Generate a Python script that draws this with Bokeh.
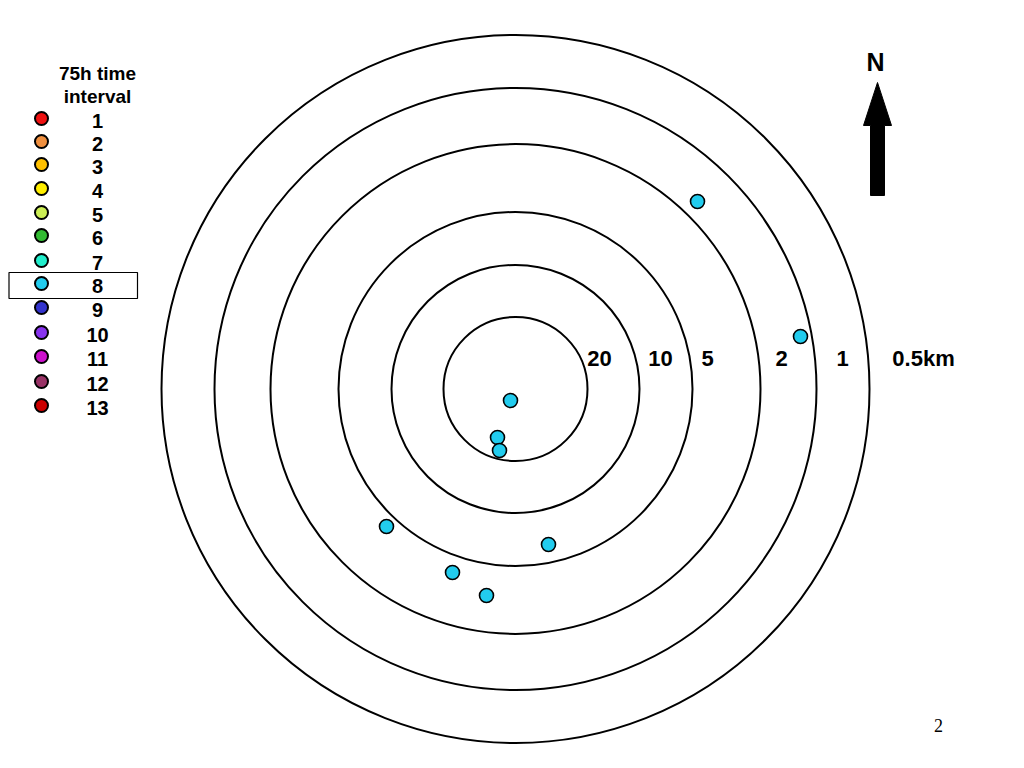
from bokeh.plotting import figure
from bokeh.models import Range1d
from bokeh.core.properties import value
from bokeh.embed import file_html
from bokeh.resources import INLINE

# ---- data (units: offsets from ring centre, east / north) ----
ring_radius = [72, 124, 177, 245, 301, 354]
ring_labels = ["20", "10", "5", "2", "1", "0.5km"]
ring_label_x = [84, 145, 192, 266, 327, 408]

point_east = [182, 285, -5, -18, -16, -129, 33, -63, -29]
point_north = [187.5, 52.5, -11.5, -48.5, -61.5, -137.5, -155.5, -183.5, -206.5]

legend_labels = ["1", "2", "3", "4", "5", "6", "7", "8", "9", "10", "11", "12", "13"]
legend_colors = ["#ee1111", "#f09040", "#ffc000", "#ffee00", "#ccee55", "#33bb33",
                 "#22eecc", "#22ccee", "#3333cc", "#8833ee", "#cc11cc", "#993366", "#cc0000"]
legend_title = ["75h time", "interval"]
highlight = "8"

# ---- layout helpers (screen pixel -> plot units) ----
CX, CY = 515, 388.5
def ux(px):
    return px - CX
def uy(py):
    return CY - py

W, H = 1016, 760
p = figure(width=W, height=H, output_backend="svg", toolbar_location=None,
           x_range=Range1d(ux(0), ux(W)), y_range=Range1d(uy(H), uy(0)),
           min_border=0, outline_line_color=None)
p.axis.visible = False
p.grid.visible = False
p.background_fill_color = "white"

FONT = value("Liberation Sans")

# rings
p.circle(x=[0] * len(ring_radius), y=[0] * len(ring_radius), radius=ring_radius,
         fill_color=None, line_color="black", line_width=2)

# ring labels
p.text(x=ring_label_x, y=[uy(358)] * len(ring_labels), text=ring_labels,
       text_font=FONT, text_font_style="bold", text_font_size="22px",
       text_align="center", text_baseline="middle", text_color="black")

# points (interval 8)
p.scatter(x=point_east, y=point_north, size=14, fill_color=legend_colors[7],
          line_color="black", line_width=1.6)

# north arrow
arrow_x = [ux(v) for v in [870, 870, 863, 877, 891, 884, 884]]
arrow_y = [uy(v) for v in [195, 125, 125, 82, 125, 125, 195]]
p.patch(arrow_x, arrow_y, fill_color="black", line_color="black", line_width=1)
p.text(x=[ux(875)], y=[uy(61)], text=["N"], text_font=FONT, text_font_style="bold",
       text_font_size="25px", text_align="center", text_baseline="middle")

# legend
leg_y_px = [118, 141, 164, 188, 212, 235, 260, 283, 307, 332, 356, 381, 405]
p.text(x=[ux(97)] * 2, y=[uy(73), uy(96)], text=legend_title, text_font=FONT,
       text_font_style="bold", text_font_size="19px", text_align="center",
       text_baseline="middle")
p.scatter(x=[ux(41)] * len(legend_labels), y=[uy(v) for v in leg_y_px], size=13,
          fill_color=legend_colors, line_color="black", line_width=2)
p.text(x=[ux(97)] * len(legend_labels), y=[uy(v + 2) for v in leg_y_px], text=legend_labels,
       text_font=FONT, text_font_style="bold", text_font_size="20px",
       text_align="center", text_baseline="middle")
hi = legend_labels.index(highlight)
hy = leg_y_px[hi]
p.quad(left=ux(8.5), right=ux(137), top=uy(hy - 11), bottom=uy(hy + 15),
       fill_color=None, line_color="black", line_width=1.2)

# page number
p.text(x=[ux(938)], y=[uy(725)], text=["2"], text_font=value("Liberation Serif"),
       text_font_size="18px", text_align="center", text_baseline="middle")

open("out.html", "w").write(file_html(p, INLINE))
